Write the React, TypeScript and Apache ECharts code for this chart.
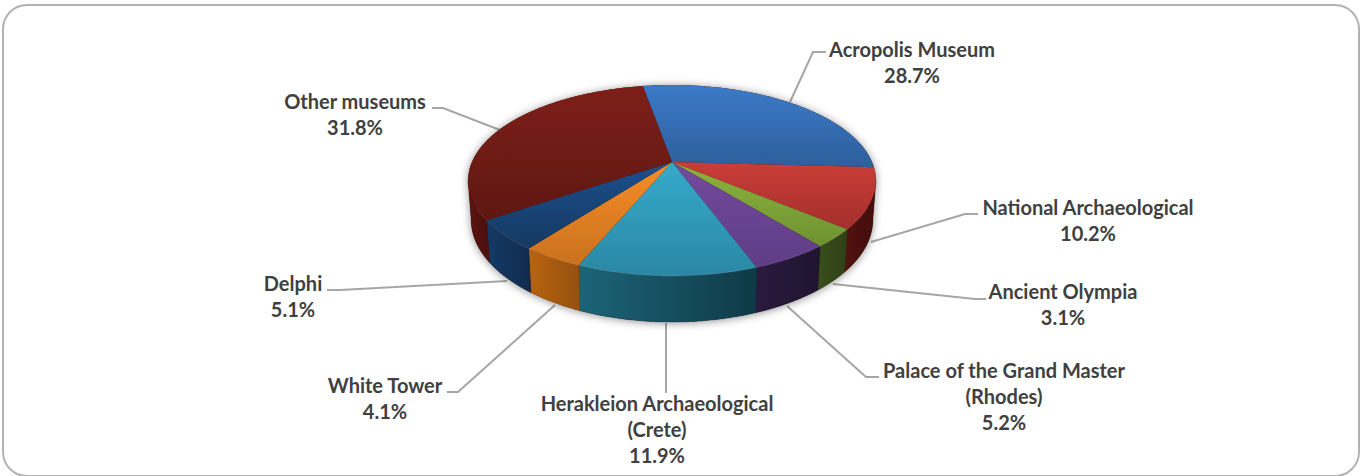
import React, { useEffect, useRef } from "react";
import * as echarts from "echarts";

const categories = [
  "Acropolis Museum",
  "National Archaeological",
  "Ancient Olympia",
  "Palace of the Grand Master\n(Rhodes)",
  "Herakleion Archaeological\n(Crete)",
  "White Tower",
  "Delphi",
  "Other museums",
];
const shares = [28.7, 10.2, 3.1, 5.2, 11.9, 4.1, 5.1, 31.8];

const topColors = [
  ["#3c7ac8", "#2c5f9c"],
  ["#cb3d38", "#a32f2c"],
  ["#8cb33e", "#6f9230"],
  ["#744a9f", "#5f3d85"],
  ["#36aacb", "#2a88a4"],
  ["#f78c26", "#c9721e"],
  ["#1c4f8e", "#153960"],
  ["#7e1f19", "#5f1712"],
];
const sideColors = [
  ["#2c5f9c", "#1f4470"],
  ["#521310", "#400d0b"],
  ["#3a4f1b", "#2f4016"],
  ["#2a1a3f", "#211430"],
  ["#1c6478", "#0f3a47"],
  ["#b9640f", "#94500f"],
  ["#143a66", "#102c4c"],
  ["#5a1410", "#4a0f0c"],
];

const labelAnchors = [
  [912, 36], [1088, 194], [1063, 278], [1004, 357], [657, 390], [385, 372], [293, 270], [355, 88],
];
const leaders = [
  [[790, 102], [813, 52], [826, 52]],
  [[871, 242], [965, 214], [978, 214]],
  [[833, 284], [975, 299], [986, 299]],
  [[787, 306], [866, 377], [879, 377]],
  [[666, 323], [666, 393]],
  [[555, 305], [458, 392], [447, 392]],
  [[507, 281], [340, 290], [327, 290]],
  [[500, 130], [443, 108], [432, 108]],
];

const total = shares.reduce((a, b) => a + b, 0);
const START_DEG = -10;
const CX = 672;
const PIVOT_Y = 162;
const BX = 200;
const BY = 91.9;
const PERSP = 0.1937;
const DEPTH = 38;
const BOTTOM_SCALE_X = 0.985;
const BOTTOM_SCALE_Y = 1.07;
const VISIBLE_FROM = 101;
const VISIBLE_TO = 259;

function project(deg: number, bottom: boolean): number[] {
  const r = (deg * Math.PI) / 180;
  const c = Math.sin(r);
  const s = -Math.cos(r);
  const w = 1 - PERSP * s;
  const kx = bottom ? BOTTOM_SCALE_X : 1;
  const ky = bottom ? BOTTOM_SCALE_Y : 1;
  return [CX + (kx * BX * c) / w, PIVOT_Y + (bottom ? DEPTH : 0) + (ky * BY * s) / w];
}

function arc(a0: number, a1: number, bottom: boolean): number[][] {
  const n = Math.max(2, Math.ceil(Math.abs(a1 - a0)));
  const pts: number[][] = [];
  for (let i = 0; i <= n; i++) pts.push(project(a0 + ((a1 - a0) * i) / n, bottom));
  return pts;
}

function sliceAngles(i: number): number[] {
  let before = 0;
  for (let j = 0; j < i; j++) before += shares[j];
  const a0 = START_DEG + (before / total) * 360;
  return [a0, a0 + (shares[i] / total) * 360];
}

function grad(horizontal: boolean, cols: string[]) {
  return new echarts.graphic.LinearGradient(0, 0, horizontal ? 1 : 0, horizontal ? 0 : 1, [
    { offset: 0, color: cols[0] },
    { offset: 1, color: cols[1] },
  ]);
}

function renderSide(params: any) {
  const i = params.dataIndex;
  const [s0, s1] = sliceAngles(i);
  const a0 = Math.max(s0, VISIBLE_FROM);
  const a1 = Math.min(s1, VISIBLE_TO);
  if (a1 <= a0) return null;
  const points = arc(a0, a1, false).concat(arc(a0, a1, true).reverse());
  return {
    type: "polygon",
    shape: { points },
    style: { fill: grad(true, sideColors[i]), stroke: sideColors[i][1], lineWidth: 0.4 },
  };
}

function renderTop(params: any) {
  const i = params.dataIndex;
  const [a0, a1] = sliceAngles(i);
  const rim = arc(a0, a1, false);
  const points = [[CX, PIVOT_Y]].concat(rim);
  const nearRim = rim.filter((p) => p[1] > PIVOT_Y + 45);
  const children: any[] = [
    { type: "polygon", shape: { points }, style: { fill: grad(false, topColors[i]) } },
  ];
  if (nearRim.length > 1) {
    children.push({
      type: "polyline",
      shape: { points: nearRim },
      style: { fill: "none", stroke: "rgba(255,255,255,0.12)", lineWidth: 1 },
    });
  }
  return { type: "group", children };
}

function renderShadow() {
  const hull = arc(VISIBLE_TO - 360, VISIBLE_FROM, false).concat(arc(VISIBLE_FROM, VISIBLE_TO, true));
  return {
    type: "polygon",
    shape: { points: hull },
    style: {
      fill: "#3a1010",
      shadowBlur: 8,
      shadowColor: "rgba(0,0,0,0.45)",
      shadowOffsetY: 1,
    },
  };
}

export default function App() {
  const ref = useRef<HTMLDivElement>(null);
  useEffect(() => {
    document.body.style.margin = "0";
    const chart = echarts.init(ref.current!, undefined, { renderer: "svg" });
    const data = shares.map((v, i) => ({ name: categories[i], value: v }));
    chart.setOption({
      animation: false,
      backgroundColor: "#ffffff",
      graphic: {
        elements: [
          {
            type: "rect",
            z: 0,
            shape: { x: 3, y: 5, width: 1356, height: 471, r: 24 },
            style: { fill: "#ffffff", stroke: "#b2b2b2", lineWidth: 2 },
          },
          ...leaders.map((pts) => ({
            type: "polyline",
            z: 1,
            shape: { points: pts },
            style: { fill: "none", stroke: "#a6a6a6", lineWidth: 2 },
          })),
          ...categories.map((name, i) => ({
            type: "text",
            z: 10,
            x: labelAnchors[i][0],
            y: labelAnchors[i][1],
            style: {
              text: `${name}\n${shares[i].toFixed(1)}%`,
              align: "center",
              verticalAlign: "top",
              fontFamily: "Lato",
              fontWeight: "bold",
              fontSize: 20,
              lineHeight: 26,
              fill: "#404040",
            },
          })),
        ],
      },
      series: [
        {
          type: "custom",
          coordinateSystem: "none",
          z: 2,
          silent: true,
          data: [1],
          renderItem: renderShadow,
        },
        {
          type: "custom",
          coordinateSystem: "none",
          z: 3,
          silent: true,
          data,
          renderItem: renderSide,
        },
        {
          type: "custom",
          coordinateSystem: "none",
          z: 4,
          silent: true,
          data,
          renderItem: renderTop,
        },
      ],
    });
    return () => chart.dispose();
  }, []);
  return (
    <div
      ref={ref}
      style={{ position: "absolute", left: 0, top: 0, width: 1362, height: 476 }}
    />
  );
}
